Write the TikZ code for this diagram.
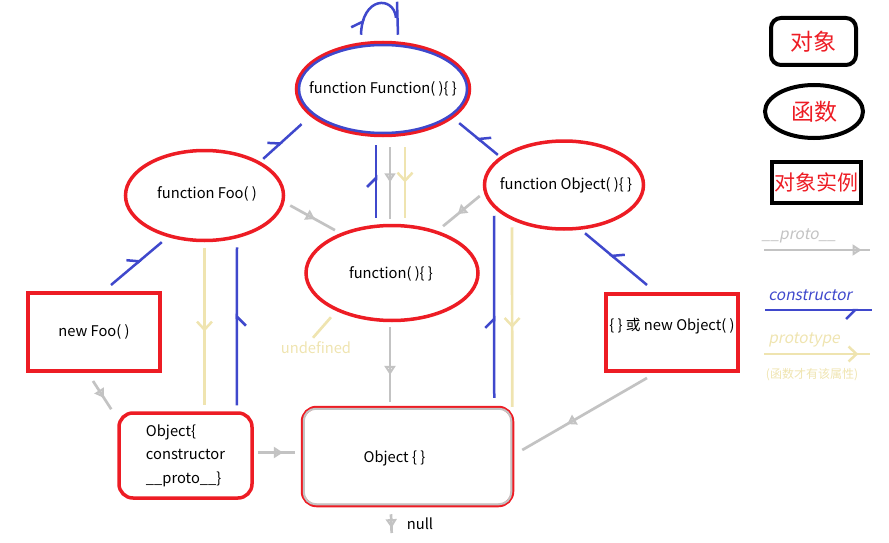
\documentclass[tikz,border=0pt]{standalone}
\usepackage{fontspec}
\setmainfont{Noto Sans CJK SC}[AutoFakeSlant=0.2]
\usetikzlibrary{shapes.geometric, arrows.meta, decorations.markings, calc}

\definecolor{pred}{RGB}{237,28,36}
\definecolor{cblue}{RGB}{63,72,204}
\definecolor{pgray}{RGB}{195,195,195}
\definecolor{pwheat}{RGB}{239,228,176}

\tikzset{
  txt/.style={inner sep=0pt, font=\fontsize{14.7pt}{17pt}\selectfont},
  fnode/.style={ellipse, draw=pred, line width=3.5pt, inner sep=0pt},
  inst/.style={txt, rectangle, draw=pred, line width=4pt},
  objbox/.style={txt, rectangle, rounded corners=14pt, draw=pred, line width=3.5pt},
  legtxt/.style={inner sep=0pt, font=\fontsize{15.5pt}{18pt}\selectfont\itshape},
  protoline/.style={pgray, line width=2.7pt, postaction={decorate},
    decoration={markings, mark=at position #1 with {\arrow{Triangle[open, length=9pt, width=11pt, line width=2pt, color=pgray]}}}},
  protoline/.default=0.5,
  typeline/.style={pwheat, line width=2.7pt, postaction={decorate},
    decoration={markings, mark=at position #1 with {\arrow{Straight Barb[length=8pt, width=15pt, line width=2.5pt, color=pwheat]}}}},
  typeline/.default=0.5,
  ctorL/.style={cblue, line width=2.5pt, postaction={decorate},
    decoration={markings, mark=at position #1 with {\arrow{Straight Barb[harpoon, length=9pt, width=18pt, line width=2.5pt, color=cblue]}}}},
  ctorR/.style={cblue, line width=2.5pt, postaction={decorate},
    decoration={markings, mark=at position #1 with {\arrow{Straight Barb[harpoon, swap, length=9pt, width=18pt, line width=2.5pt, color=cblue]}}}},
}

\begin{document}
\begin{tikzpicture}[x=1pt, y=-1pt]
    \useasboundingbox (0,0) rectangle (889,543);

    \node[fnode, minimum width=173pt, minimum height=93pt] (Fun) at (383,89) {};
    \draw[cblue, line width=2.5pt] (Fun.center) ellipse [x radius=84pt, y radius=44pt];
    \node[txt] (Funtext) at (Fun.center) {function Function( )\{ \}};
    \node[fnode, minimum width=158pt, minimum height=90pt] (Foo) at (204.5,195.5) {};
    \node[txt] (Footext) at (207,194) {function Foo( )};
    \node[fnode, minimum width=172pt, minimum height=95pt] (fn) at (392,273) {};
    \node[txt] (fntext) at (391,274) {function( )\{ \}};
    \node[fnode, minimum width=159pt, minimum height=88pt] (Obj) at (564,185) {};
    \node[txt] (Objtext) at (566,185) {function Object( )\{ \}};

    \node[inst, minimum width=132pt, minimum height=78pt] (newFoo) at (94,332) {new Foo( )};
    \node[inst, minimum width=132pt, minimum height=77pt] (newObj) at (672,332) {};
    \node[txt] (newObjtext) at (672,326) {\{ \} 或 new Object( )};

    \node[objbox, minimum width=133pt, minimum height=85pt, align=left,
        font=\fontsize{14.7pt}{23.5pt}\selectfont] (ctor) at (185.5,455.5)
        {Object\{\\constructor\\\_\_proto\_\_\}};
    \node[objbox, minimum width=210pt, minimum height=98pt] (ObjP) at (407.5,456.5) {};
    \draw[pgray, line width=2pt, rounded corners=12pt] ($(ObjP.north west)+(3,3)$) rectangle ($(ObjP.south east)+(-3,-3)$);
    \node[txt] (ObjPtext) at (394.5,458) {Object \{ \}};

    \node[txt] (null) at (420,524) {null};
    \node[txt, text=pwheat] (undef) at (316,348) {undefined};

    \draw[protoline=0.49] ($(Fun.south -| fn.north)+(-2,10)$) -- ($(fn.north)+(-2,-5)$);
    \draw[typeline=0.5] ($(Fun.south -| fn.north)+(13,10)$) -- ($(fn.north)+(13,-6)$);
    \draw[ctorL=0.59] ($(fn.north)+(-16,-6)$) -- ($(Fun.south -| fn.north)+(-16,8)$);

    \draw[protoline=0.55] ($(Foo.east)+(5,10)$) -- ($(fn.north west)+(5,-8)$);
    \draw[protoline=0.6] ($(Obj.west)+(-3,11)$) -- ($(fn.north east)+(-11,-12)$);
    \draw[protoline=0.64] ($(fn.south)+(-2,5)$) -- ($(ObjP.north -| fn.south)+(-2,-4)$);
    \draw[protoline=0.6] ($(newFoo.south)+(-1,8)$) -- ($(ctor.north west)+(-6,-2)$);
    \draw[protoline=0.68] ($(ctor.east)+(4,-3)$) -- ($(ObjP.west)+(-6,-4)$);
    \draw[protoline=0.64] ($(newObj.south)+(-25,5.5)$) -- ($(ObjP.east)+(8,-6.5)$);
    \draw[protoline=0.74] ($(ObjP.south)+(-16.5,7)$) -- ($(null.west)+(-15,9)$);

    \draw[typeline=0.53] ($(Foo.south)+(0,6)$) -- ($(ctor.north -| Foo.south)+(0,-6)$);
    \draw[typeline=0.56] ($(Obj.south)+(-52,-3.5)$) -- ($(ObjP.north east)+(-2,1)$);
    \draw[pwheat, line width=2.7pt] ($(fn.south west)+(1,9.4)$) -- ($(undef.north)+(-3,-4)$);

    \draw[ctorR=0.58] ($(ctor.north east)+(-17,-6)$) -- ($(Foo.south)+(32.5,5)$);
    \draw[ctorL=0.45] ($(ObjP.north east)+(-20,-8)$) -- ($(Obj.south)+(-70,-15)$);
    \draw[ctorL=0.5] ($(Foo.north east)+(1.6,-3.6)$) -- ($(Fun.south west)+(-19,1)$);
    \draw[ctorR=0.56] ($(Obj.north west)+(-8.7,2.2)$) -- ($(Fun.south east)+(13.8,0)$);
    \draw[ctorR=0.6] ($(newObj.north)+(-25,-6.5)$) -- ($(Obj.south)+(21,2.5)$);
    \draw[ctorL=0.6] ($(newFoo.north)+(17,-6)$) -- ($(Foo.south west)+(14.4,13.6)$);
    \draw[ctorL=0.25] ($(Fun.north)+(-22,-6)$) .. controls ($(Fun.north)+(-21,-45)$) and ($(Fun.north)+(11,-45)$) .. ($(Fun.north)+(13,-23)$);
    \draw[cblue, line width=2.5pt] ($(Fun.north)+(14,-39)$) -- ($(Fun.north)+(15,-6)$);

    \node[rectangle, rounded corners=10pt, draw=black, line width=4pt, minimum width=85pt, minimum height=47pt,
        text=pred, font=\fontsize{23pt}{26pt}\selectfont] (lobj) at (813.5,41.5) {对象};
    \node[ellipse, draw=black, line width=4pt, minimum width=98pt, minimum height=53pt, inner sep=0pt,
        text=pred, font=\fontsize{23pt}{26pt}\selectfont] (lfun) at (814,111.5) {函数};
    \node[rectangle, draw=black, line width=4.5pt, minimum width=89pt, minimum height=41pt, inner sep=0pt,
        text=pred, font=\fontsize{21pt}{24pt}\selectfont] (linst) at (816.5,182.5) {对象实例};

    \node[legtxt, text=pgray] (lproto) at (799,236) {\_\_proto\_\_};
    \coordinate (lp1) at (764,250);
    \coordinate (lp2) at (870,250);
    \draw[protoline=0.92] (lp1) -- (lp2);

    \node[legtxt, text=cblue] (lctor) at (810,295) {constructor};
    \coordinate (lc1) at (765,310);
    \coordinate (lc2) at (872,310);
    \draw[ctorR=0.87] (lc1) -- (lc2);

    \node[legtxt, text=pwheat] (ltype) at (804,340) {prototype};
    \coordinate (lt1) at (764,354);
    \coordinate (lt2) at (870,354);
    \draw[typeline=0.89] (lt1) -- (lt2);
    \node[inner sep=0pt, text=pwheat, font=\fontsize{12pt}{14pt}\selectfont] (lnote) at (812,375) {(函数才有该属性)};
\end{tikzpicture}
\end{document}
